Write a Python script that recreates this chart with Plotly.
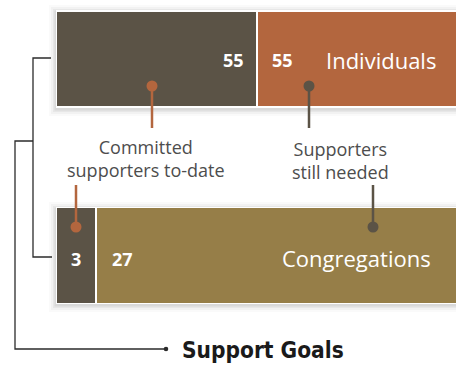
import plotly.graph_objects as go

# ---- data ----
categories = ["Individuals", "Congregations"]
committed = [55, 3]
needed = [55, 27]
committed_label = "Committed<br>supporters to-date"
needed_label = "Supporters<br>still needed"
title_text = "Support Goals"

W, H = 456, 366
DARK = "#5B5346"
ORANGE = "#B3663E"
GOLD = "#967E48"
TXT = "#4d4d4d"
LINE = "#2b2b2b"

totals = [c + n for c, n in zip(committed, needed)]
share_c = [c / t for c, t in zip(committed, totals)]
share_n = [n / t for n, t in zip(needed, totals)]

def px(x):
    return x / W

def py(y):
    return 1 - y / H

fig = go.Figure()
fig.add_trace(go.Bar(
    y=categories, x=share_c, orientation="h", width=0.489,
    marker=dict(color=[DARK, DARK], line=dict(color="white", width=1.5)),
    hoverinfo="skip", showlegend=False))
fig.add_trace(go.Bar(
    y=categories, x=share_n, orientation="h", width=0.489,
    marker=dict(color=[ORANGE, GOLD], line=dict(color="white", width=1.5)),
    hoverinfo="skip", showlegend=False))

shapes = []
# soft shadows behind bars
for (x0, y0, x1, y1) in [(56, 11, 470, 107), (56, 208, 470, 303)]:
    for k, op in [(7, 0.02), (5, 0.03), (3, 0.045), (1.5, 0.06)]:
        shapes.append(dict(type="rect", xref="paper", yref="paper", layer="below",
                           x0=px(x0 - k), x1=px(x1 + k), y0=py(y1 + k + 2), y1=py(y0 - k + 1),
                           fillcolor=f"rgba(0,0,0,{op})", line=dict(width=0)))

def vline(x, y0, y1, color, width=2.5):
    shapes.append(dict(type="line", xref="paper", yref="paper",
                       x0=px(x), x1=px(x), y0=py(y0), y1=py(y1),
                       line=dict(color=color, width=width)))

def dot(x, y, r, color):
    shapes.append(dict(type="circle", xref="paper", yref="paper",
                       x0=px(x - r), x1=px(x + r), y0=py(y + r), y1=py(y - r),
                       fillcolor=color, line=dict(width=0)))

def path(points, color=LINE, width=1.3):
    d = "M " + " L ".join(f"{px(x)},{py(y)}" for x, y in points)
    shapes.append(dict(type="path", xref="paper", yref="paper", path=d,
                       line=dict(color=color, width=width)))

# connectors
vline(152, 86, 128, ORANGE); dot(152, 86, 5.5, ORANGE)
vline(309, 86, 128, DARK); dot(309, 86, 5.5, DARK)
vline(76, 185, 227, ORANGE); dot(76, 227, 5.5, ORANGE)
vline(373, 185, 227, DARK); dot(373, 227, 5.5, DARK)

# brackets
path([(51, 58), (33, 58), (33, 257), (52, 257)])
path([(33, 141), (15, 141), (15, 349), (166, 349)])
dot(166, 349, 2.3, LINE)

ann = []
def text(t, x, y, size, color, xanchor="center", bold=False, family="Open Sans"):
    ann.append(dict(text=f"<b>{t}</b>" if bold else t, x=px(x), y=py(y),
                    xref="paper", yref="paper", xanchor=xanchor, yanchor="middle",
                    showarrow=False, font=dict(size=size, color=color, family=family)))

text(str(committed[0]), 246, 60, 18, "white", "right", True)
text(str(needed[0]), 270, 60, 18, "white", "left", True)
text(categories[0], 381, 60, 22, "white")
text(str(committed[1]), 76, 259, 18, "white", "center", True)
text(str(needed[1]), 110, 259, 18, "white", "left", True)
text(categories[1], 356, 258, 22, "white")
text(committed_label, 146, 159, 18, TXT)
text(needed_label, 340, 160, 18, TXT)
text(title_text, 180, 350, 22.5, "#1a1a1a", "left", True, "DejaVu Sans Condensed, DejaVu Sans")

fig.update_layout(
    width=W, height=H, barmode="stack",
    margin=dict(l=0, r=0, t=0, b=0),
    paper_bgcolor="white", plot_bgcolor="rgba(0,0,0,0)",
    xaxis=dict(domain=[56 / W, 1], range=[0, 400 / 402], visible=False, fixedrange=True),
    yaxis=dict(categoryorder="array", categoryarray=categories, range=[1.562, -0.300],
               visible=False, fixedrange=True),
    shapes=shapes, annotations=ann, showlegend=False,
)
fig.write_html("out.html")
